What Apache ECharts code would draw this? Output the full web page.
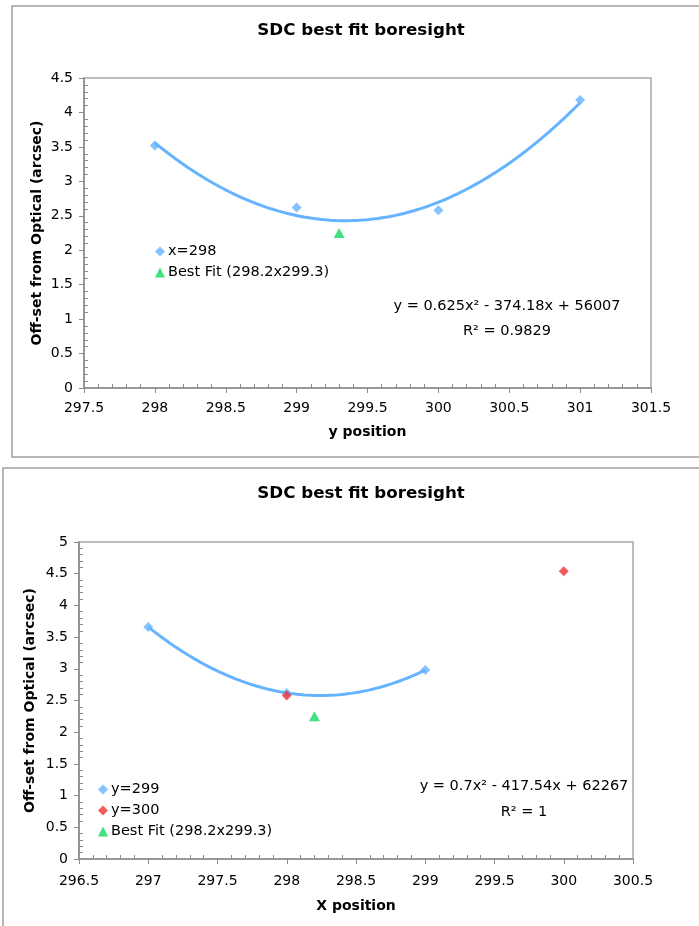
<!DOCTYPE html>
<html>
<head>
<meta charset="utf-8">
<script src="https://cdn.jsdelivr.net/npm/echarts@6/dist/echarts.min.js"></script>
<style>
html,body{margin:0;padding:0;background:#fff;}
#c{width:699px;height:926px;}
</style>
</head>
<body>
<div id="c"></div>
<script>
// ---- data ----
const titleText = 'SDC best fit boresight';
const yAxisTitle = 'Off-set from Optical (arcsec)';
const topXName = 'y position';
const botXName = 'X position';

const topSeriesName = 'x=298';
const topX = [298, 299, 300, 301];
const topY = [3.52, 2.62, 2.58, 4.18];
const bestFitName = 'Best Fit (298.2x299.3)';
const bestFitTop = [299.3, 2.25];
const topEq = 'y = 0.625x² - 374.18x + 56007';
const topR2 = 'R² = 0.9829';

const botSeries1Name = 'y=299';
const botX1 = [297, 298, 299];
const botY1 = [3.66, 2.62, 2.98];
const botSeries2Name = 'y=300';
const botX2 = [298, 300];
const botY2 = [2.58, 4.54];
const bestFitBot = [298.2, 2.25];
const botEq = 'y = 0.7x² - 417.54x + 62267';
const botR2 = 'R² = 1';

const topXRange = [297.5, 301.5];
const topYRange = [0, 4.5];
const botXRange = [296.5, 300.5];
const botYRange = [0, 5];

// ---- styling ----
const BLUE = '#66b3ff', RED = '#ee3535', GREEN = '#12d862';
const FONT = 'DejaVu Sans, Verdana, sans-serif';

// least-squares quadratic trendline (as in a polynomial trendline)
function polyfit2(xs, ys) {
  const m = xs.reduce((a, b) => a + b, 0) / xs.length;
  let S = [[0,0,0],[0,0,0],[0,0,0]], R = [0,0,0];
  xs.forEach((x, i) => {
    const t = x - m, p = [1, t, t*t];
    for (let r = 0; r < 3; r++) { R[r] += p[r]*ys[i]; for (let c = 0; c < 3; c++) S[r][c] += p[r]*p[c]; }
  });
  const A = S.map((row, i) => row.concat([R[i]]));
  for (let i = 0; i < 3; i++) {
    for (let k = i+1; k < 3; k++) {
      const f = A[k][i] / A[i][i];
      for (let j = i; j < 4; j++) A[k][j] -= f*A[i][j];
    }
  }
  const co = [0,0,0];
  for (let i = 2; i >= 0; i--) {
    let s = A[i][3];
    for (let j = i+1; j < 3; j++) s -= A[i][j]*co[j];
    co[i] = s / A[i][i];
  }
  return { m, co };
}
function trend(xs, ys) {
  const f = polyfit2(xs, ys);
  const x0 = Math.min(...xs), x1 = Math.max(...xs);
  const out = [];
  const n = 80;
  for (let i = 0; i <= n; i++) {
    const x = x0 + (x1 - x0) * i / n, t = x - f.m;
    out.push([x, f.co[0] + f.co[1]*t + f.co[2]*t*t]);
  }
  return out;
}
const zip = (a, b) => a.map((v, i) => [v, b[i]]);

function xAxisCfg(gi, range, name, gap, margin) {
  return {
    type: 'value', gridIndex: gi, min: range[0], max: range[1], interval: 0.5,
    name: name, nameLocation: 'middle', nameGap: gap, nameMoveOverlap: false,
    nameTextStyle: { fontFamily: FONT, fontWeight: 'bold', fontSize: 14, color: '#000' },
    axisLine: { show: true, onZero: false, lineStyle: { color: '#8a8a8a', width: 1.5 } },
    axisTick: { show: true, inside: false, length: 5, lineStyle: { color: '#8a8a8a' } },
    minorTick: { show: true, splitNumber: 5, length: -4, lineStyle: { color: '#8a8a8a' } },
    splitLine: { show: false }, minorSplitLine: { show: false },
    axisLabel: { fontFamily: FONT, fontSize: 14, color: '#000', margin: margin,
      formatter: v => String(+v.toFixed(1)) }
  };
}
function yAxisCfg(gi, range, gap) {
  return {
    type: 'value', gridIndex: gi, min: range[0], max: range[1], interval: 0.5,
    name: yAxisTitle, nameLocation: 'middle', nameGap: gap, nameMoveOverlap: false,
    nameTextStyle: { fontFamily: FONT, fontWeight: 'bold', fontSize: 14, color: '#000' },
    axisLine: { show: true, onZero: false, lineStyle: { color: '#8a8a8a', width: 1.5 } },
    axisTick: { show: true, inside: false, length: 5, lineStyle: { color: '#8a8a8a' } },
    minorTick: { show: true, splitNumber: 5, length: -4, lineStyle: { color: '#8a8a8a' } },
    splitLine: { show: false }, minorSplitLine: { show: false },
    axisLabel: { fontFamily: FONT, fontSize: 14, color: '#000', margin: 11,
      formatter: v => String(+v.toFixed(1)) }
  };
}
function txt(x, y, text, size, weight) {
  return { type: 'text', x: x, y: y, silent: true,
    style: { text: text, fontFamily: FONT, fontSize: size, fontWeight: weight || 'normal',
      fill: '#000', align: 'center', verticalAlign: 'middle',
      textAlign: 'center', textVerticalAlign: 'middle' } };
}

const chart = echarts.init(document.getElementById('c'), null, { renderer: 'canvas' });
chart.setOption({
  animation: false,
  backgroundColor: '#fff',
  grid: [
    { left: 84, top: 78, width: 567, height: 310, show: true, borderColor: '#a8a8a8', borderWidth: 1.5, backgroundColor: 'transparent' },
    { left: 79, top: 542, width: 554, height: 317, show: true, borderColor: '#a8a8a8', borderWidth: 1.5, backgroundColor: 'transparent' }
  ],
  xAxis: [ xAxisCfg(0, topXRange, topXName, 37, 13), xAxisCfg(1, botXRange, botXName, 40, 15) ],
  yAxis: [ yAxisCfg(0, topYRange, 40), yAxisCfg(1, botYRange, 42) ],
  legend: [
    { left: 150, top: 239, orient: 'vertical', itemGap: 6, itemWidth: 10, itemHeight: 10,
      textStyle: { fontFamily: FONT, fontSize: 14.5, color: '#000', padding: [0,0,0,-2] },
      data: [ { name: topSeriesName, icon: 'diamond', itemStyle: { color: BLUE } },
              { name: bestFitName, icon: 'triangle', itemStyle: { color: GREEN } } ] },
    { left: 93, top: 777, orient: 'vertical', itemGap: 6, itemWidth: 10, itemHeight: 10,
      textStyle: { fontFamily: FONT, fontSize: 14.5, color: '#000', padding: [0,0,0,-2] },
      data: [ { name: botSeries1Name, icon: 'diamond', itemStyle: { color: BLUE } },
              { name: botSeries2Name, icon: 'diamond', itemStyle: { color: RED } },
              { name: bestFitName, icon: 'triangle', itemStyle: { color: GREEN } } ] }
  ],
  series: [
    { type: 'line', name: 'trend top', xAxisIndex: 0, yAxisIndex: 0, data: trend(topX, topY),
      showSymbol: false, symbol: 'none', smooth: false, lineStyle: { color: BLUE, width: 3 }, z: 2, silent: true },
    { type: 'scatter', name: topSeriesName, xAxisIndex: 0, yAxisIndex: 0, data: zip(topX, topY),
      symbol: 'diamond', symbolSize: 10, itemStyle: { color: BLUE }, z: 3 },
    { type: 'scatter', name: bestFitName, xAxisIndex: 0, yAxisIndex: 0, data: [bestFitTop],
      symbol: 'triangle', symbolSize: [11, 10], itemStyle: { color: GREEN }, z: 3 },

    { type: 'line', name: 'trend bottom', xAxisIndex: 1, yAxisIndex: 1, data: trend(botX1, botY1),
      showSymbol: false, symbol: 'none', smooth: false, lineStyle: { color: BLUE, width: 3 }, z: 2, silent: true },
    { type: 'scatter', name: botSeries1Name, xAxisIndex: 1, yAxisIndex: 1, data: zip(botX1, botY1),
      symbol: 'diamond', symbolSize: 10, itemStyle: { color: BLUE }, z: 3 },
    { type: 'scatter', name: botSeries2Name, xAxisIndex: 1, yAxisIndex: 1, data: zip(botX2, botY2),
      symbol: 'diamond', symbolSize: 10, itemStyle: { color: RED }, z: 4 },
    { type: 'scatter', name: bestFitName, xAxisIndex: 1, yAxisIndex: 1, data: [bestFitBot],
      symbol: 'triangle', symbolSize: [11, 10], itemStyle: { color: GREEN }, z: 3 }
  ],
  graphic: [
    { type: 'rect', shape: { x: 12, y: 6, width: 700, height: 451 }, silent: true,
      style: { fill: 'none', stroke: '#a0a0a0', lineWidth: 1.5 } },
    { type: 'rect', shape: { x: 3, y: 468, width: 710, height: 470 }, silent: true,
      style: { fill: 'none', stroke: '#a0a0a0', lineWidth: 1.5 } },
    txt(361, 31, titleText, 16.7, 'bold'),
    txt(361, 494, titleText, 16.7, 'bold'),
    txt(507, 306, topEq, 14.5),
    txt(507, 331, topR2, 14.5),
    txt(524, 786, botEq, 14.5),
    txt(524, 812, botR2, 14.5)
  ]
});
</script>
</body>
</html>
